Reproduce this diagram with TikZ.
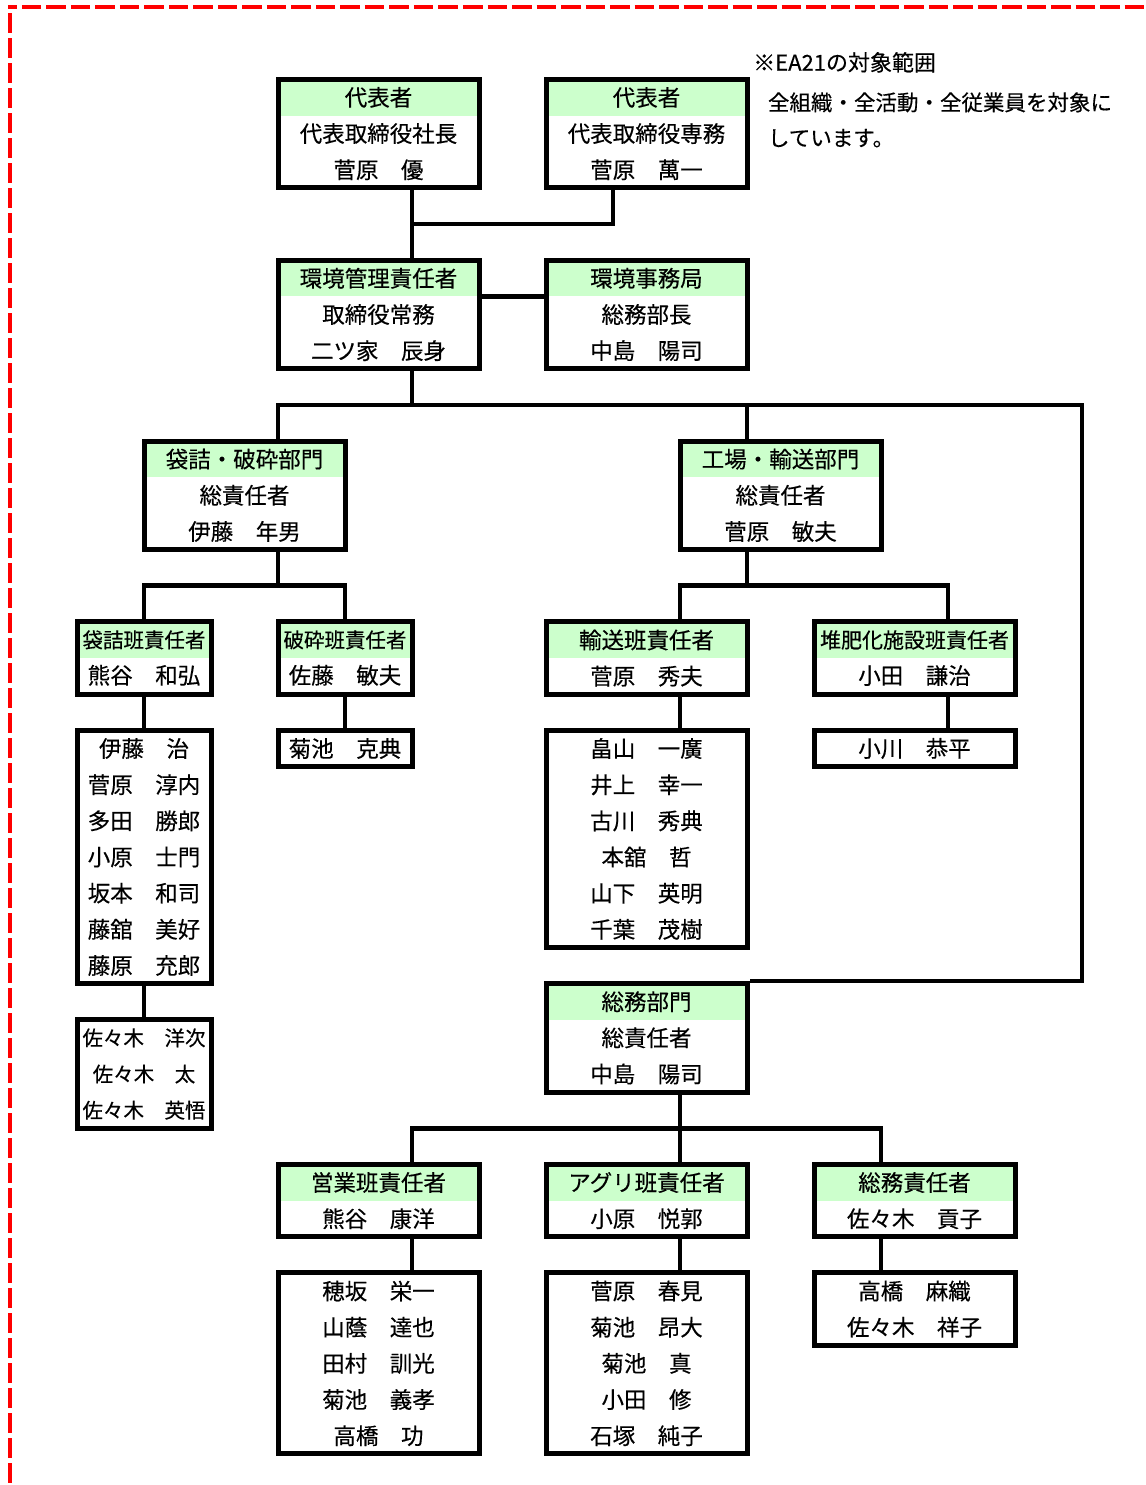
\documentclass[tikz,border=0pt]{standalone}
\usepackage{fontspec}
\setmainfont{Noto Sans CJK JP}[FakeBold=0.35]
\definecolor{hdrgreen}{HTML}{CCFFCC}
\tikzset{
  orgbox/.style={draw, line width=5pt, inner sep=0pt, align=center,
    font=\fontsize{22.5}{36.17}\selectfont, minimum height=#1*36.17pt},
  orgbox/.default=1,
  wide/.style={minimum width=201pt},
  narrow/.style={minimum width=134pt},
  titled/.style={path picture={\fill[hdrgreen] (path picture bounding box.north west)
    rectangle ([yshift=-36.17pt]path picture bounding box.north east);}},
  snug/.style={font=\fontsize{20.5}{36.17}\selectfont},
  wire/.style={line width=4.5pt},
}
\begin{document}
\begin{tikzpicture}[x=67pt,y=-36.17pt]
	\useasboundingbox (-0.1493,-0.1935) rectangle (16.9403,40.8626);
	% frame
	\draw[red, line width=4.5pt, dash pattern=on 19.5pt off 5pt, dash phase=10.5pt] (-0.03,0) -- (17.2,0);
	\draw[red, line width=4.5pt, dash pattern=on 19.5pt off 5.5pt] (0,0.17) -- (0,41);
	\foreach \i in {0,...,16}{
		\coordinate (c\i) at (\i,0);
	}
	% note
	\node[anchor=west, inner sep=0pt, font=\fontsize{22}{36}\selectfont] (notehead) at (11.09,1.53) {※EA21の対象範囲};
	\node[anchor=west, inner sep=0pt, align=left, font=\fontsize{21.5}{35.5}\selectfont] (notebody) at (11.31,3.12) {全組織・全活動・全従業員を対象に\\しています。};
	% top
	\node[orgbox=3, wide, titled] (rep1) at (5.5,3.5) {代表者\\代表取締役社長\\菅原　優};
	\node[orgbox=3, wide, titled] (vp) at (9.5,3.5) {代表者\\代表取締役専務\\菅原　萬一};
	\node[orgbox=3, wide, titled] (envmgr) at (5.5,8.5) {環境管理責任者\\取締役常務\\二ツ家　辰身};
	\node[orgbox=3, wide, titled] (eoffice) at (9.5,8.5) {環境事務局\\総務部長\\中島　陽司};
	% departments
	\node[orgbox=3, wide, titled] (bag) at (3.5,13.5) {袋詰・破砕部門\\総責任者\\伊藤　年男};
	\node[orgbox=3, wide, titled] (plant) at (11.5,13.5) {工場・輸送部門\\総責任者\\菅原　敏夫};
	\node[orgbox=3, wide, titled] (admin) at (9.5,28.5) {総務部門\\総責任者\\中島　陽司};
	% crews
	\node[orgbox=2, narrow, titled] (bagcrew) at (2,18) {{\fontsize{20.5}{36.17}\selectfont 袋詰班責任者}\\熊谷　和弘};
	\node[orgbox=2, narrow, titled] (crushcrew) at (5,18) {{\fontsize{20.5}{36.17}\selectfont 破砕班責任者}\\佐藤　敏夫};
	\node[orgbox=2, wide, titled] (carry) at (9.5,18) {輸送班責任者\\菅原　秀夫};
	\node[orgbox=2, wide, titled] (compost) at (13.5,18) {{\fontsize{21}{36.17}\selectfont 堆肥化施設班責任者}\\小田　謙治};
	\node[orgbox=2, wide, titled] (sales) at (5.5,33) {営業班責任者\\熊谷　康洋};
	\node[orgbox=2, wide, titled] (agri) at (9.5,33) {アグリ班責任者\\小原　悦郭};
	\node[orgbox=2, wide, titled] (gen) at (13.5,33) {総務責任者\\佐々木　貢子};
	% staff
	\node[orgbox=7, narrow] (bagstaff) at (2,23.5) {伊藤　治\\菅原　淳内\\多田　勝郎\\小原　士門\\坂本　和司\\藤舘　美好\\藤原　充郎};
	\node[orgbox=3, narrow, snug] (bagstaff2) at (2,29.5) {佐々木　洋次\\佐々木　太\\佐々木　英悟};
	\node[orgbox, narrow] (crushstaff) at (5,20.5) {菊池　克典};
	\node[orgbox=6, wide] (carrystaff) at (9.5,23) {畠山　一廣\\井上　幸一\\古川　秀典\\本舘　哲\\山下　英明\\千葉　茂樹};
	\node[orgbox, wide] (compoststaff) at (13.5,20.5) {小川　恭平};
	\node[orgbox=5, wide] (salesstaff) at (5.5,37.5) {穂坂　栄一\\山蔭　達也\\田村　訓光\\菊池　義孝\\高橋　功};
	\node[orgbox=5, wide] (agristaff) at (9.5,37.5) {菅原　春見\\菊池　昂大\\菊池　真\\小田　修\\石塚　純子};
	\node[orgbox=2, wide] (genstaff) at (13.5,36) {高橋　麻織\\佐々木　祥子};
	% junctions
	\coordinate (j1) at (6,6);
	\coordinate (j2) at (6,11);
	\coordinate (j3) at (4,16);
	\coordinate (j4) at (11,16);
	\coordinate (j5) at (10,31);
	% lines
	\draw[wire] (c6 |- rep1.south) -- (c6 |- envmgr.north);
	\draw[wire] (c9 |- vp.south) |- (j1);
	\draw[wire] ([yshift=18.085pt]envmgr.east) -- ([yshift=18.085pt]eoffice.west);
	\draw[wire] (c6 |- envmgr.south) -- (j2);
	\draw[wire] (c4 |- bag.north) |- (c16 |- j2) |- (admin.north east);
	\draw[wire] (c11 |- plant.north) -- (c11 |- j2);
	\draw[wire] (c4 |- bag.south) -- (j3);
	\draw[wire] (bagcrew.north) |- (j3) -| (crushcrew.north);
	\draw[wire] (bagcrew.south) -- (bagstaff.north);
	\draw[wire] (bagstaff.south) -- (bagstaff2.north);
	\draw[wire] (crushcrew.south) -- (crushstaff.north);
	\draw[wire] (c11 |- plant.south) -- (j4);
	\draw[wire] (c10 |- carry.north) |- (j4) -| (c14 |- compost.north);
	\draw[wire] (c10 |- carry.south) -- (c10 |- carrystaff.north);
	\draw[wire] (c14 |- compost.south) -- (c14 |- compoststaff.north);
	\draw[wire] (c10 |- admin.south) -- (c10 |- agri.north);
	\draw[wire] (c6 |- sales.north) |- (j5) -| (c13 |- gen.north);
	\draw[wire] (c6 |- sales.south) -- (c6 |- salesstaff.north);
	\draw[wire] (c10 |- agri.south) -- (c10 |- agristaff.north);
	\draw[wire] (c13 |- gen.south) -- (c13 |- genstaff.north);
\end{tikzpicture}
\end{document}
